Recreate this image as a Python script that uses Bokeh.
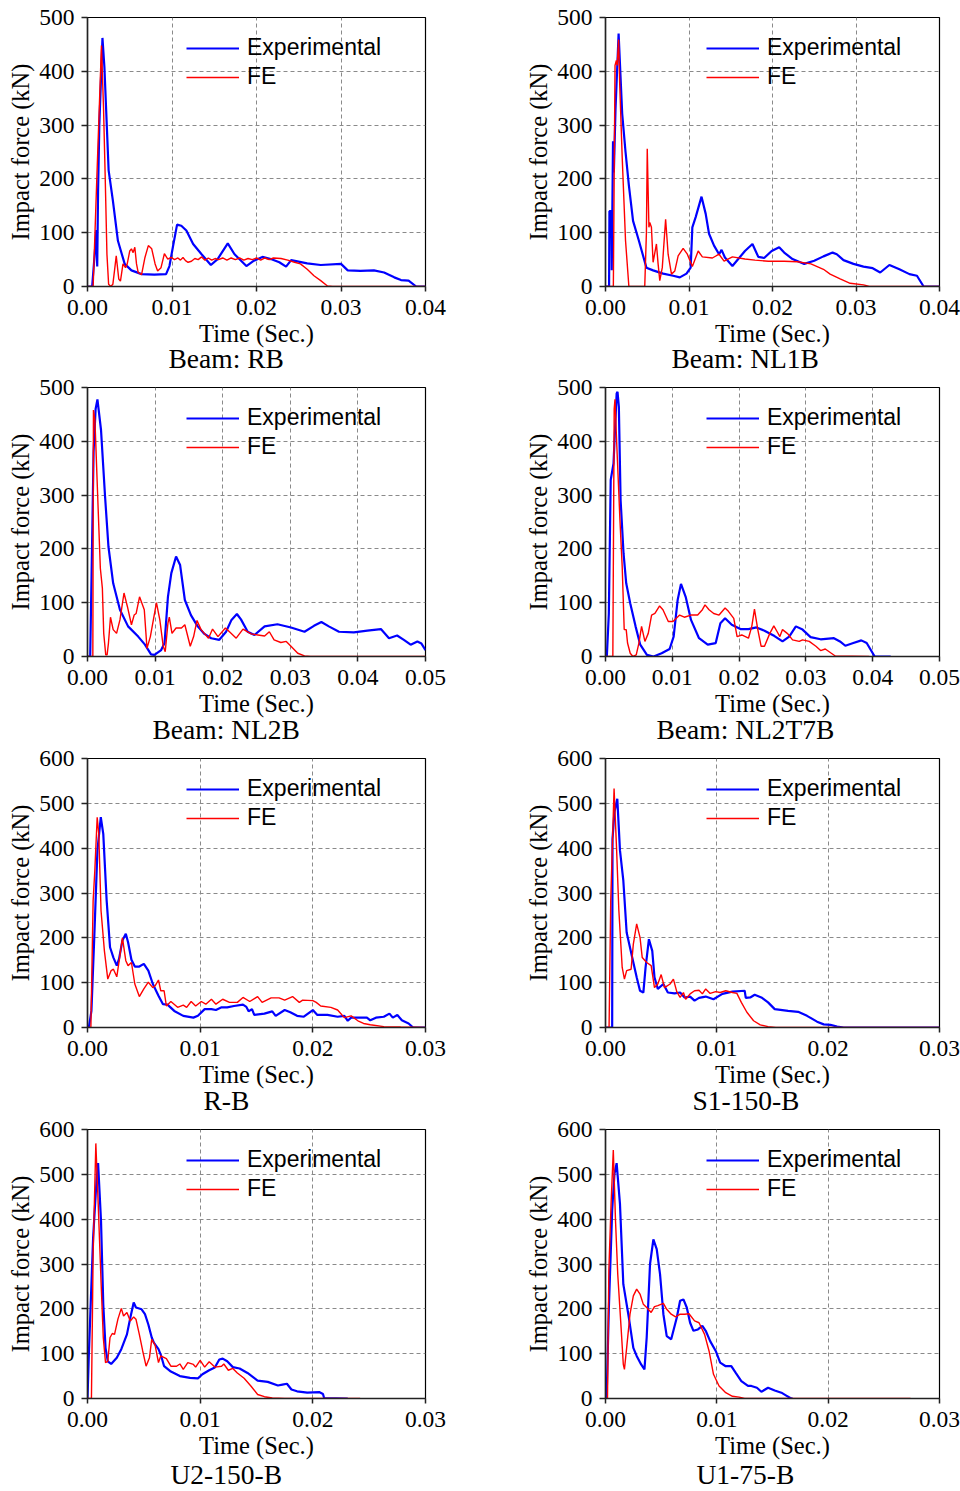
from bokeh.plotting import figure
from bokeh.models import Range1d, FixedTicker, PrintfTickFormatter, Title, Legend, LegendItem
from bokeh.layouts import column, row
from bokeh.embed import file_html
from bokeh.resources import INLINE

# ---------------- data (time in s, impact force in kN) ----------------
PANEL_NAMES = ["Beam: RB", "Beam: NL1B", "Beam: NL2B", "Beam: NL2T7B",
               "R-B", "S1-150-B", "U2-150-B", "U1-75-B"]
SERIES_NAMES = ["Experimental", "FE"]

X_TICKS_040 = [0.00, 0.01, 0.02, 0.03, 0.04]
X_TICKS_050 = [0.00, 0.01, 0.02, 0.03, 0.04, 0.05]
X_TICKS_030 = [0.00, 0.01, 0.02, 0.03]
Y_TICKS_500 = [0, 100, 200, 300, 400, 500]
Y_TICKS_600 = [0, 100, 200, 300, 400, 500, 600]

RB_EXP = [(0, 0), (0.00055, 0), (0.00085, 60), (0.00105, 105), (0.00115, 37), (0.00125, 175),
          (0.0014, 300), (0.00177, 462), (0.002, 408), (0.0025, 216), (0.003, 160), (0.0036, 85),
          (0.0044, 42), (0.0052, 30), (0.0064, 23), (0.0079, 22), (0.0093, 23), (0.0097, 38),
          (0.0101, 73), (0.0106, 115), (0.0111, 113), (0.0117, 104), (0.0125, 79), (0.0135, 60),
          (0.0146, 40), (0.0154, 51), (0.0166, 80), (0.0174, 60), (0.0188, 38), (0.0197, 48),
          (0.0207, 55), (0.0217, 51), (0.0227, 45), (0.0235, 37), (0.0241, 49), (0.026, 43),
          (0.0276, 40), (0.030, 42), (0.0308, 30), (0.0323, 29), (0.0339, 30), (0.0351, 26),
          (0.0363, 17), (0.0371, 12), (0.038, 11), (0.0389, 0), (0.04, 0)]
RB_FE = [(0, 0), (0.00067, 0), (0.0011, 200), (0.00165, 448), (0.0019, 330), (0.0021, 200),
         (0.0023, 60), (0.0025, 4), (0.00275, 0), (0.003, 4), (0.0032, 30), (0.0034, 57),
         (0.0037, 14), (0.0039, 10), (0.0042, 42), (0.0045, 35), (0.0047, 42), (0.005, 66),
         (0.0052, 70), (0.0054, 63), (0.0056, 73), (0.0058, 42), (0.006, 26), (0.0064, 22),
         (0.0068, 54), (0.0072, 76), (0.0076, 70), (0.008, 42), (0.0083, 29), (0.0087, 35),
         (0.0091, 61), (0.0095, 51), (0.0099, 54), (0.0103, 50), (0.0107, 53), (0.011, 49),
         (0.0113, 54), (0.0116, 48), (0.0119, 45), (0.0123, 47), (0.0127, 52), (0.0131, 50),
         (0.0135, 55), (0.0139, 49), (0.0143, 53), (0.0147, 49), (0.0151, 52), (0.0155, 50),
         (0.016, 53), (0.0165, 49), (0.017, 53), (0.0175, 50), (0.018, 53), (0.0185, 49),
         (0.019, 52), (0.0195, 50), (0.02, 53), (0.0205, 49), (0.021, 53), (0.0215, 50),
         (0.022, 53), (0.0229, 52), (0.0237, 49), (0.0245, 45), (0.0252, 42), (0.026, 32),
         (0.0268, 20), (0.0276, 11), (0.0284, 1), (0.029, 0), (0.04, 0)]

NL1B_EXP = [(0, 0), (0.00043, 0), (0.00047, 140), (0.0007, 140), (0.00075, 30), (0.0009, 270),
            (0.001, 212), (0.0012, 330), (0.00157, 470), (0.002, 321), (0.0024, 250), (0.0028, 188),
            (0.0033, 122), (0.004, 85), (0.0049, 35), (0.0057, 30), (0.0069, 24), (0.0081, 20),
            (0.0089, 17), (0.0097, 24), (0.0102, 35), (0.0104, 110), (0.0108, 129), (0.0115, 167),
            (0.012, 135), (0.0124, 98), (0.013, 76), (0.0136, 60), (0.0139, 68), (0.0143, 54),
            (0.0152, 38), (0.0159, 51), (0.0167, 66), (0.0176, 79), (0.0183, 55), (0.019, 53),
            (0.0199, 66), (0.0208, 73), (0.0214, 63), (0.0224, 51), (0.0238, 42), (0.025, 48),
            (0.0261, 56), (0.0272, 63), (0.0277, 60), (0.0285, 49), (0.0297, 42), (0.0309, 37),
            (0.032, 34), (0.0329, 26), (0.034, 40), (0.0352, 32), (0.0364, 23), (0.0373, 20),
            (0.0381, 0), (0.04, 0)]
NL1B_FE = [(0, 0), (0.00094, 0), (0.00114, 411), (0.0013, 420), (0.0014, 411), (0.00157, 459),
           (0.0017, 377), (0.002, 240), (0.0024, 85), (0.0028, 0), (0.0047, 0), (0.0049, 100),
           (0.005, 256), (0.0052, 110), (0.0053, 119), (0.0055, 110), (0.0057, 45), (0.0061, 79),
           (0.0063, 42), (0.0065, 11), (0.0068, 35), (0.0072, 125), (0.0075, 60), (0.0079, 23),
           (0.0083, 29), (0.0087, 57), (0.0093, 71), (0.0098, 60), (0.0104, 37), (0.0111, 66),
           (0.0116, 55), (0.0128, 53), (0.0136, 60), (0.0142, 47), (0.0152, 55), (0.0167, 51),
           (0.0179, 49), (0.0195, 47), (0.0214, 47), (0.023, 46), (0.0246, 42), (0.0261, 32),
           (0.0269, 23), (0.0281, 14), (0.0293, 6), (0.0309, 3), (0.0316, 0), (0.04, 0)]

NL2B_EXP = [(0, 0), (0.0004, 0), (0.0006, 150), (0.0009, 380), (0.0012, 460), (0.00147, 478),
            (0.002, 421), (0.0026, 297), (0.0031, 204), (0.0038, 136), (0.0048, 87), (0.006, 56),
            (0.0075, 37), (0.0085, 22), (0.0094, 4), (0.0099, 3), (0.0109, 12), (0.0114, 25),
            (0.0119, 111), (0.0124, 155), (0.0131, 186), (0.0137, 170), (0.0144, 105), (0.0153, 77),
            (0.0163, 56), (0.0173, 42), (0.0183, 34), (0.0195, 31), (0.0205, 46), (0.0213, 68),
            (0.0221, 79), (0.0227, 69), (0.0237, 46), (0.0247, 40), (0.0262, 56), (0.0281, 60),
            (0.0301, 54), (0.0321, 46), (0.0335, 57), (0.0346, 64), (0.0357, 56), (0.0372, 46),
            (0.0394, 45), (0.0414, 48), (0.0434, 51), (0.0446, 34), (0.0458, 39), (0.0468, 31),
            (0.0478, 22), (0.0488, 28), (0.0494, 24), (0.05, 12)]
NL2B_FE = [(0, 0), (0.00079, 0), (0.00088, 458), (0.0011, 439), (0.0016, 266), (0.0019, 164),
           (0.0022, 127), (0.0024, 43), (0.0027, 3), (0.0029, 3), (0.0031, 25), (0.0034, 73),
           (0.0038, 50), (0.0043, 43), (0.0048, 68), (0.0054, 118), (0.0059, 93), (0.0065, 59),
           (0.0069, 77), (0.0072, 80), (0.0077, 111), (0.0084, 87), (0.0088, 15), (0.0093, 37),
           (0.0102, 100), (0.0107, 68), (0.0112, 19), (0.0115, 9), (0.0119, 62), (0.0121, 73),
           (0.0125, 43), (0.0131, 53), (0.0139, 53), (0.0144, 59), (0.0152, 19), (0.0157, 37),
           (0.0162, 67), (0.0168, 50), (0.0179, 34), (0.0185, 51), (0.0193, 37), (0.0204, 53),
           (0.021, 46), (0.022, 34), (0.023, 51), (0.0242, 42), (0.0252, 40), (0.0262, 38),
           (0.0269, 46), (0.0276, 31), (0.0286, 26), (0.0294, 28), (0.0301, 19), (0.0311, 6),
           (0.0321, 1), (0.033, 0), (0.05, 0)]

NL2T7B_EXP = [(0, 0), (0.0002, 0), (0.0005, 80), (0.00078, 328), (0.0012, 359), (0.00167, 489),
              (0.0018, 492), (0.002, 464), (0.00226, 291), (0.0027, 192), (0.0031, 136),
              (0.0037, 99), (0.0045, 56), (0.0052, 22), (0.0062, 3), (0.0072, 0), (0.0084, 6),
              (0.0096, 14), (0.0102, 37), (0.0108, 105), (0.0113, 135), (0.012, 111), (0.0128, 68),
              (0.014, 34), (0.0153, 22), (0.0165, 25), (0.0172, 62), (0.0179, 71), (0.0189, 59),
              (0.0202, 51), (0.0214, 51), (0.0226, 54), (0.0238, 48), (0.0253, 38), (0.0265, 28),
              (0.0275, 37), (0.0285, 56), (0.0295, 50), (0.0307, 36), (0.0322, 32), (0.0342, 34),
              (0.0351, 28), (0.0359, 20), (0.0371, 25), (0.0383, 30), (0.0391, 25), (0.0403, 0),
              (0.0427, 0)]
NL2T7B_FE = [(0, 0), (0.0011, 0), (0.0013, 460), (0.00142, 478), (0.0017, 390), (0.00216, 254),
             (0.0025, 167), (0.0028, 50), (0.0031, 50), (0.0033, 25), (0.0037, 6), (0.0041, 0),
             (0.0046, 3), (0.005, 25), (0.0054, 56), (0.0059, 28), (0.0064, 43), (0.0069, 77),
             (0.0074, 80), (0.0081, 94), (0.0086, 87), (0.0094, 65), (0.0101, 65), (0.0111, 77),
             (0.0118, 73), (0.0128, 77), (0.0138, 77), (0.0145, 87), (0.0149, 96), (0.0155, 87),
             (0.0162, 80), (0.017, 77), (0.0179, 90), (0.0184, 84), (0.0192, 71), (0.0197, 37),
             (0.0204, 40), (0.0214, 34), (0.0219, 56), (0.0223, 88), (0.0228, 50), (0.0233, 19),
             (0.0238, 19), (0.0246, 43), (0.0252, 57), (0.0257, 46), (0.0261, 37), (0.0265, 50),
             (0.0273, 42), (0.028, 31), (0.029, 28), (0.0295, 31), (0.0305, 28), (0.0315, 19),
             (0.0322, 11), (0.0329, 14), (0.0337, 7), (0.0344, 1), (0.0395, 0)]

RB2_EXP = [(0, 0), (0.00012, 0), (0.00035, 37), (0.0006, 201), (0.00088, 395), (0.00118, 469),
           (0.0014, 432), (0.0017, 283), (0.002, 179), (0.0023, 156), (0.0026, 138), (0.0028, 153),
           (0.0031, 194), (0.0034, 209), (0.0036, 190), (0.0039, 151), (0.0042, 136), (0.0046, 136),
           (0.005, 142), (0.0054, 127), (0.0058, 97), (0.0063, 71), (0.0067, 52), (0.0071, 51),
           (0.0077, 37), (0.0085, 26), (0.0094, 22), (0.0098, 26), (0.0104, 41), (0.011, 41),
           (0.0114, 39), (0.0119, 45), (0.0124, 45), (0.013, 48), (0.0138, 51), (0.0141, 46),
           (0.0143, 36), (0.0146, 41), (0.0148, 28), (0.0157, 31), (0.0164, 36), (0.0167, 26),
           (0.0175, 39), (0.018, 34), (0.0186, 26), (0.0192, 24), (0.02, 39), (0.0204, 28),
           (0.0213, 28), (0.0222, 24), (0.0228, 26), (0.0231, 15), (0.0234, 22), (0.0242, 22),
           (0.0248, 22), (0.0251, 16), (0.0256, 22), (0.0263, 24), (0.0268, 31), (0.0271, 22),
           (0.0275, 28), (0.0279, 16), (0.0285, 9), (0.0289, 0), (0.03, 0)]
RB2_FE = [(0, 0), (0.0003, 0), (0.0005, 283), (0.00065, 350), (0.00086, 469), (0.001, 432),
          (0.0012, 261), (0.0015, 171), (0.0018, 108), (0.0021, 127), (0.0023, 130), (0.0026, 113),
          (0.0029, 164), (0.0031, 200), (0.0034, 149), (0.0036, 138), (0.0039, 145), (0.0042, 97),
          (0.0046, 69), (0.005, 86), (0.0054, 101), (0.0058, 89), (0.006, 93), (0.0063, 106),
          (0.0065, 82), (0.0068, 82), (0.007, 48), (0.0074, 58), (0.008, 45), (0.0085, 50),
          (0.0088, 45), (0.0092, 58), (0.0096, 48), (0.0101, 58), (0.0105, 52), (0.011, 63),
          (0.0114, 52), (0.012, 63), (0.0126, 56), (0.0133, 56), (0.0138, 67), (0.0144, 58),
          (0.0151, 69), (0.0155, 56), (0.0163, 66), (0.017, 66), (0.0175, 61), (0.0182, 69),
          (0.0188, 56), (0.0191, 61), (0.02, 60), (0.0203, 56), (0.0207, 48), (0.0216, 45),
          (0.0222, 39), (0.0228, 22), (0.0234, 26), (0.024, 15), (0.0245, 9), (0.0251, 6),
          (0.0263, 2), (0.0278, 1), (0.03, 0)]

S1_EXP = [(0, 0), (0.0006, 0), (0.00063, 420), (0.0008, 480), (0.00106, 510), (0.0013, 395),
          (0.0016, 328), (0.0019, 212), (0.0024, 156), (0.0028, 112), (0.0031, 82), (0.0034, 78),
          (0.0036, 134), (0.0039, 197), (0.0042, 171), (0.0044, 112), (0.0047, 86), (0.0052, 97),
          (0.0056, 78), (0.0062, 76), (0.0067, 78), (0.0071, 67), (0.0076, 69), (0.008, 60),
          (0.0084, 66), (0.009, 69), (0.0097, 63), (0.0105, 75), (0.0114, 80), (0.0125, 82),
          (0.0126, 66), (0.013, 67), (0.0134, 73), (0.014, 67), (0.0146, 56), (0.0152, 41),
          (0.0164, 37), (0.0173, 35), (0.0181, 26), (0.019, 13), (0.0196, 7), (0.0202, 6),
          (0.0208, 2), (0.0214, 0), (0.03, 0)]
S1_FE = [(0, 0), (0.00032, 0), (0.00047, 283), (0.00077, 533), (0.001, 395), (0.0012, 261),
         (0.0015, 134), (0.0017, 108), (0.0019, 127), (0.0023, 130), (0.0025, 186), (0.0028, 231),
         (0.0031, 201), (0.0033, 156), (0.0037, 145), (0.0041, 138), (0.0044, 89), (0.0047, 97),
         (0.005, 118), (0.0053, 89), (0.0058, 97), (0.0061, 108), (0.0064, 80), (0.0067, 67),
         (0.007, 78), (0.0072, 63), (0.0076, 75), (0.008, 82), (0.0084, 83), (0.0087, 75),
         (0.009, 86), (0.0094, 76), (0.0099, 80), (0.0103, 78), (0.0108, 82), (0.0114, 78),
         (0.0118, 76), (0.0122, 56), (0.0127, 34), (0.0133, 15), (0.0139, 6), (0.0146, 2),
         (0.0153, 0), (0.03, 0)]

U2_EXP = [(0, 0), (0.00012, 98), (0.0005, 359), (0.0008, 486), (0.00094, 525), (0.0012, 396),
          (0.0014, 210), (0.0016, 113), (0.0018, 83), (0.0021, 77), (0.0026, 91), (0.003, 110),
          (0.0035, 143), (0.0038, 180), (0.0041, 214), (0.0043, 203), (0.0048, 199), (0.0051, 188),
          (0.0054, 165), (0.0057, 136), (0.0059, 124), (0.0063, 110), (0.0065, 98), (0.0068, 72),
          (0.0074, 60), (0.0082, 50), (0.0091, 46), (0.0098, 45), (0.0102, 54), (0.0108, 63),
          (0.0113, 69), (0.0117, 87), (0.012, 89), (0.0124, 83), (0.0129, 70), (0.0135, 67),
          (0.0142, 57), (0.0151, 40), (0.016, 37), (0.0169, 29), (0.0173, 31), (0.0177, 33),
          (0.0181, 20), (0.0186, 16), (0.0195, 13), (0.0206, 14), (0.0209, 10), (0.021, 1),
          (0.0231, 0)]
U2_FE = [(0, 0), (0.00035, 0), (0.0005, 322), (0.00074, 569), (0.00095, 434), (0.0012, 262),
         (0.0014, 136), (0.0016, 80), (0.0018, 83), (0.002, 136), (0.0022, 145), (0.0024, 143),
         (0.0027, 177), (0.003, 201), (0.0032, 184), (0.0035, 192), (0.0038, 173), (0.0041, 182),
         (0.0043, 177), (0.0046, 143), (0.0049, 106), (0.0052, 72), (0.0055, 91), (0.0057, 132),
         (0.006, 119), (0.0063, 80), (0.0065, 95), (0.007, 89), (0.0074, 72), (0.0079, 72),
         (0.0082, 77), (0.0085, 65), (0.0089, 80), (0.0094, 76), (0.0096, 70), (0.01, 85),
         (0.0104, 70), (0.0108, 82), (0.0113, 70), (0.0119, 72), (0.0121, 77), (0.0125, 63),
         (0.0129, 67), (0.0133, 57), (0.0139, 45), (0.0145, 28), (0.0151, 9), (0.0157, 4),
         (0.0164, 1), (0.0175, 0), (0.0242, 0)]

U1_EXP = [(0, 0), (0.0001, 0), (0.0003, 200), (0.0006, 420), (0.0008, 500), (0.001, 525),
          (0.0013, 434), (0.0016, 255), (0.0021, 180), (0.0025, 113), (0.0028, 95), (0.0032, 76),
          (0.0035, 65), (0.0037, 136), (0.004, 300), (0.0043, 355), (0.0046, 333), (0.0049, 277),
          (0.0052, 188), (0.0055, 139), (0.0059, 132), (0.0064, 180), (0.0067, 218), (0.007, 221),
          (0.0073, 203), (0.0076, 169), (0.0079, 151), (0.0083, 154), (0.0087, 162), (0.009, 151),
          (0.0094, 128), (0.0099, 106), (0.0103, 80), (0.0108, 72), (0.0113, 72), (0.0117, 57),
          (0.0122, 39), (0.0128, 28), (0.0131, 28), (0.0136, 24), (0.014, 15), (0.0146, 24),
          (0.0152, 18), (0.0158, 13), (0.0162, 7), (0.0166, 1), (0.0168, 0)]
U1_FE = [(0, 0), (0.00018, 0), (0.0003, 285), (0.0005, 434), (0.0007, 554), (0.0009, 396),
         (0.0011, 277), (0.0014, 158), (0.0016, 76), (0.0017, 65), (0.0019, 113), (0.0022, 188),
         (0.0025, 229), (0.0028, 244), (0.0031, 233), (0.0034, 210), (0.0037, 203), (0.0041, 192),
         (0.0044, 205), (0.0047, 207), (0.0052, 212), (0.0055, 199), (0.0059, 188), (0.0063, 182),
         (0.0067, 188), (0.0071, 188), (0.0075, 189), (0.008, 173), (0.0084, 169), (0.0089, 143),
         (0.0093, 106), (0.0097, 54), (0.0102, 28), (0.0108, 13), (0.0114, 5), (0.012, 3),
         (0.0125, 0), (0.0274, 0)]

PANELS = [
    (PANEL_NAMES[0], RB_EXP, RB_FE, X_TICKS_040, Y_TICKS_500),
    (PANEL_NAMES[1], NL1B_EXP, NL1B_FE, X_TICKS_040, Y_TICKS_500),
    (PANEL_NAMES[2], NL2B_EXP, NL2B_FE, X_TICKS_050, Y_TICKS_500),
    (PANEL_NAMES[3], NL2T7B_EXP, NL2T7B_FE, X_TICKS_050, Y_TICKS_500),
    (PANEL_NAMES[4], RB2_EXP, RB2_FE, X_TICKS_030, Y_TICKS_600),
    (PANEL_NAMES[5], S1_EXP, S1_FE, X_TICKS_030, Y_TICKS_600),
    (PANEL_NAMES[6], U2_EXP, U2_FE, X_TICKS_030, Y_TICKS_600),
    (PANEL_NAMES[7], U1_EXP, U1_FE, X_TICKS_030, Y_TICKS_600),
]

# ---------------- style / layout ----------------
SERIF = "Liberation Serif"
SANS = "Liberation Sans"
BLUE = "#0000ff"
RED = "#ff0000"
AX = "#222222"

COL_W = [518, 442]
COL_BORDER_L = [87, 87]
COL_BORDER_R = [93, 21]
COL_LEGEND_X = [99, 101]
ROW_H = [374, 371, 371, 374]
ROW_TOP = [17, 13, 13, 13]
ROW_BOTTOM = [88, 89, 89, 92]
ROW_TITLE_STANDOFF = [-18, -16, -16, -10]
TITLE_OFFSETS = [81, 66, 65, 51, 116, 87, 83, 91]


def make_panel(i):
    name, exp, fe, xticks, yticks = PANELS[i]
    col, r = i % 2, i // 2
    p = figure(width=COL_W[col], height=ROW_H[r],
               x_range=Range1d(xticks[0], xticks[-1]),
               y_range=Range1d(yticks[0], yticks[-1]),
               output_backend="svg", toolbar_location=None,
               min_border_left=COL_BORDER_L[col], min_border_right=COL_BORDER_R[col],
               min_border_top=ROW_TOP[r], min_border_bottom=ROW_BOTTOM[r])
    p.background_fill_color = "white"
    p.border_fill_color = "white"
    p.outline_line_color = "black"
    p.outline_line_width = 1.2

    r_exp = p.line([t for t, f in exp], [f for t, f in exp], line_color=BLUE, line_width=2.2)
    r_fe = p.line([t for t, f in fe], [f for t, f in fe], line_color=RED, line_width=1.4)

    xt = FixedTicker(ticks=xticks)
    yt = FixedTicker(ticks=yticks)
    p.xaxis.ticker = xt
    p.yaxis.ticker = yt
    p.xgrid.ticker = xt
    p.ygrid.ticker = yt
    p.xaxis.formatter = PrintfTickFormatter(format="%.2f")
    p.yaxis.formatter = PrintfTickFormatter(format="%d")
    p.xaxis.axis_label = "Time (Sec.)"
    p.yaxis.axis_label = "Impact force (kN)"
    for ax in (p.xaxis[0], p.yaxis[0]):
        ax.axis_label_text_font = SERIF
        ax.axis_label_text_font_size = "24.5px"
        ax.axis_label_text_font_style = "normal"
        ax.axis_label_text_color = "black"
        ax.major_label_text_font = SERIF
        ax.major_label_text_font_size = "23.5px"
        ax.major_label_text_font_style = "normal"
        ax.major_label_text_color = "black"
        ax.axis_line_color = AX
        ax.axis_line_width = 1.5
        ax.major_tick_line_color = AX
        ax.major_tick_line_width = 1.5
        ax.major_tick_in = 0
        ax.minor_tick_in = 0
        ax.minor_tick_out = 0
    p.xaxis.major_tick_out = 5
    p.yaxis.major_tick_out = 6
    p.xaxis.major_label_standoff = 8
    p.yaxis.major_label_standoff = 7
    p.xaxis.axis_label_standoff = 2
    p.yaxis.axis_label_standoff = 2

    p.grid.grid_line_color = "#8a8a8a"
    p.grid.grid_line_dash = "4 3"
    p.grid.grid_line_width = 1

    legend = Legend(items=[LegendItem(label=SERIES_NAMES[0], renderers=[r_exp]),
                           LegendItem(label=SERIES_NAMES[1], renderers=[r_fe])],
                    location=(COL_LEGEND_X[col], 196),
                    label_text_font=SANS, label_text_font_size="23px",
                    label_text_color="black",
                    glyph_width=53, glyph_height=20, label_standoff=8,
                    spacing=2, padding=0, margin=0,
                    border_line_alpha=0, background_fill_alpha=0)
    p.add_layout(legend)

    title = Title(text=name, align="left", offset=TITLE_OFFSETS[i],
                  standoff=ROW_TITLE_STANDOFF[r],
                  text_font=SERIF, text_font_size="27.5px", text_font_style="normal",
                  text_color="black")
    p.add_layout(title, "below")
    return p


figs = [make_panel(i) for i in range(8)]
layout = column(*[row(figs[2 * k], figs[2 * k + 1]) for k in range(4)])

open("out.html", "w").write(file_html(layout, INLINE))
